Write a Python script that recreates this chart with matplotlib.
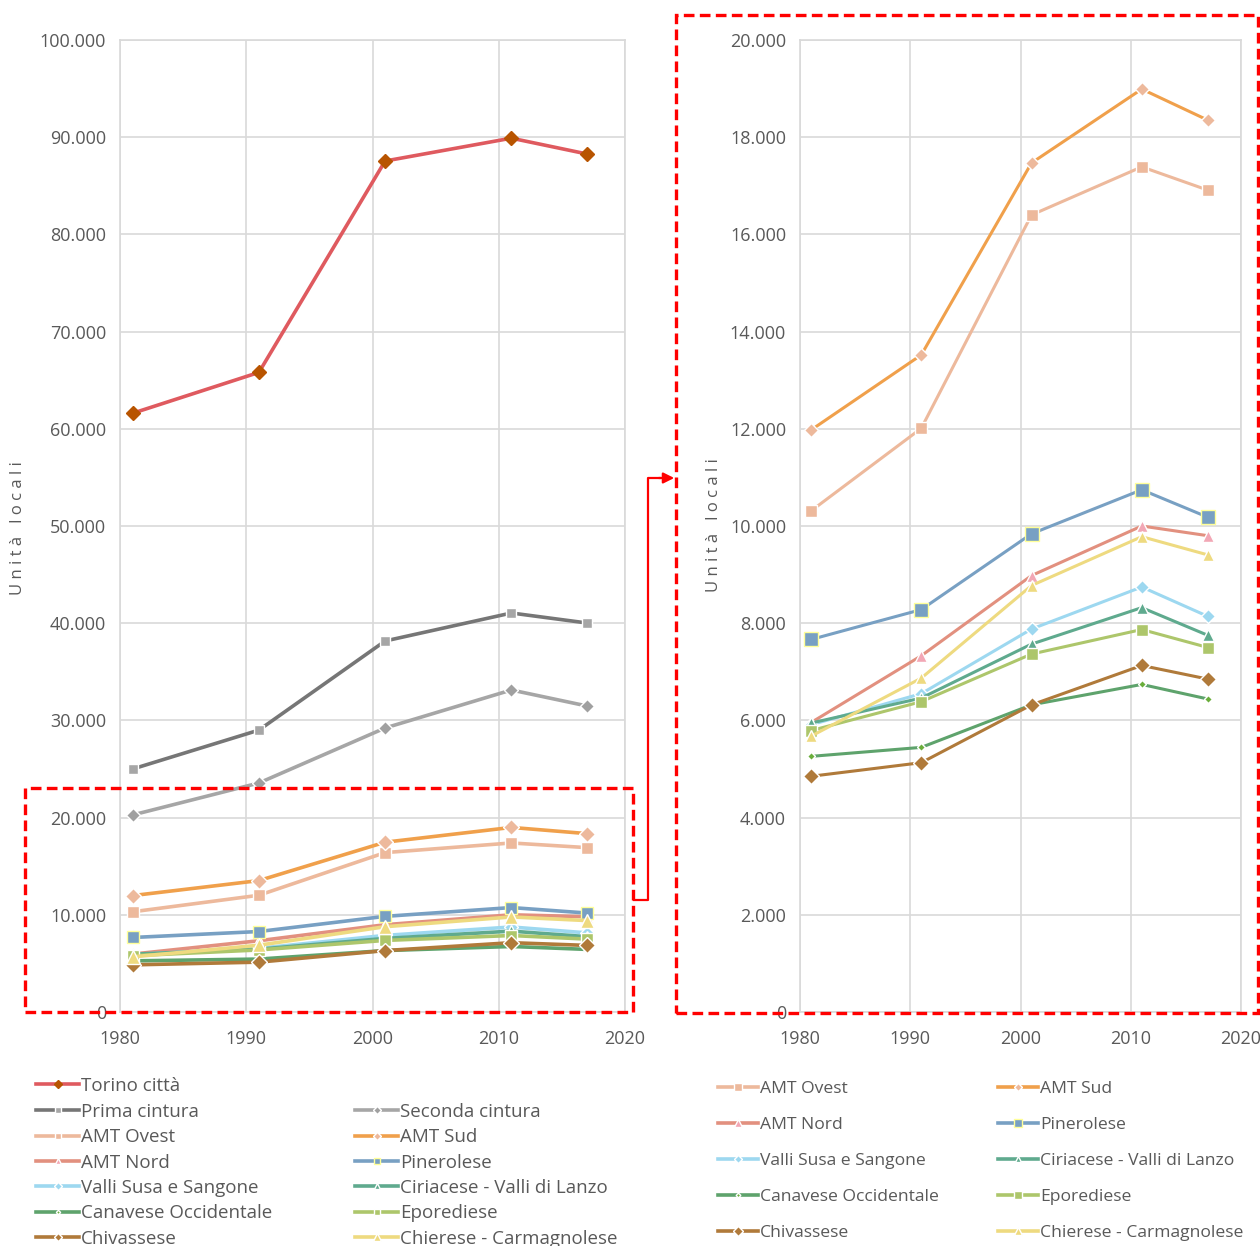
import matplotlib
matplotlib.use('Agg')
import matplotlib.pyplot as plt
from matplotlib.lines import Line2D
from matplotlib.patches import Rectangle, FancyArrowPatch
from matplotlib.ticker import FuncFormatter

plt.rcParams['font.family'] = ['Open Sans', 'DejaVu Sans']

# === data ===
years = [1981, 1991, 2001, 2011, 2017]

torino_citta = [61600, 65800, 87550, 89900, 88270]
prima_cintura = [25000, 29000, 38170, 41050, 40020]
seconda_cintura = [20270, 23560, 29220, 33130, 31480]
amt_ovest = [10310, 12010, 16400, 17390, 16910]
amt_sud = [11975, 13520, 17470, 18990, 18350]
amt_nord = [5955, 7330, 8980, 10000, 9800]
pinerolese = [7665, 8280, 9840, 10745, 10180]
valli_susa = [5910, 6550, 7880, 8745, 8140]
ciriacese = [5945, 6460, 7570, 8320, 7750]
canavese = [5260, 5445, 6320, 6740, 6440]
eporediese = [5790, 6385, 7365, 7870, 7500]
chivassese = [4850, 5130, 6320, 7130, 6850]
chierese = [5675, 6870, 8775, 9780, 9405]

# label, values, line colour, marker, marker face, marker edge, marker size (left, right)
series = [
    ('Torino città', torino_citta, '#DF5A5F', 'D', '#B85400', '#B85400', 7, 7),
    ('Prima cintura', prima_cintura, '#767676', 's', '#A6A6A6', 'white', 7, 7),
    ('Seconda cintura', seconda_cintura, '#A6A6A6', 'D', '#A0A0A0', 'white', 7, 7),
    ('AMT Ovest', amt_ovest, '#EDB99C', 's', '#EDB99C', 'white', 9, 9),
    ('AMT Sud', amt_sud, '#F0A04B', 'D', '#EDB99C', 'white', 8, 7),
    ('AMT Nord', amt_nord, '#E2907F', '^', '#F2A7B5', 'white', 9, 9),
    ('Pinerolese', pinerolese, '#78A0C3', 's', '#78A0C3', '#FFFF99', 9, 10),
    ('Valli Susa e Sangone', valli_susa, '#9DD8F0', 'D', '#9DD8F0', 'white', 7, 7),
    ('Ciriacese - Valli di Lanzo', ciriacese, '#5FAA8E', '^', '#5FAA8E', 'white', 8, 8),
    ('Canavese Occidentale', canavese, '#5EA36C', 'D', '#6AAE3B', 'white', 4, 4),
    ('Eporediese', eporediese, '#ADC66B', 's', '#ADC66B', 'white', 9, 9),
    ('Chivassese', chivassese, '#B07A3A', 'D', '#B07A3A', 'white', 8, 8),
    ('Chierese - Carmagnolese', chierese, '#EEDA80', '^', '#EEDA80', 'white', 10, 9),
]

TXT = '#595959'
GRID = '#D9D9D9'
W, H = 1260, 1246


def thousands(v, pos):
    return f'{int(v):,}'.replace(',', '.')


def fx(x):
    return x / W


def fy(y):
    return 1 - y / H


fig = plt.figure(figsize=(12.6, 12.46), dpi=100)
axL = fig.add_axes([fx(120), fy(1012), fx(625) - fx(120), fy(40) - fy(1012)])
axR = fig.add_axes([fx(800), fy(1012), fx(1241) - fx(800), fy(40) - fy(1012)])

handles = {}
for ax, which in [(axL, 0), (axR, 1)]:
    for name, vals, lc, mk, mf, me, msl, msr in series:
        if which == 1 and name in ('Torino città', 'Prima cintura', 'Seconda cintura'):
            continue
        ms = msl if which == 0 else msr
        ln, = ax.plot(years, vals, color=lc, lw=2.6 if which == 0 else 2.2,
                      marker=mk, ms=ms, mfc=mf, mec=me, mew=1.0, label=name,
                      solid_joinstyle='round', clip_on=False)
        handles[(which, name)] = ln

for ax, top, step, pad in [(axL, 100000, 10000, 10), (axR, 20000, 2000, 10)]:
    ax.set_xlim(1980, 2020)
    ax.set_ylim(0, top)
    ax.set_xticks(range(1980, 2021, 10))
    ax.set_yticks(range(0, top + 1, step))
    ax.yaxis.set_major_formatter(FuncFormatter(thousands))
    ax.grid(color=GRID, lw=1.2)
    ax.set_axisbelow(True)
    for s in ax.spines.values():
        s.set_color(GRID)
        s.set_linewidth(1.2)
    ax.tick_params(length=0, labelsize=13, labelcolor=TXT)
    ax.tick_params(axis='y', pad=pad)
    ax.tick_params(axis='x', pad=13)

fig.text(fx(18), fy(528), 'U n i t à   l o c a l i', rotation=90, ha='center', va='center',
         fontsize=12, color=TXT)
fig.text(fx(714), fy(525), 'U n i t à   l o c a l i', rotation=90, ha='center', va='center',
         fontsize=12, color=TXT)

# === legends ===
left_col1 = ['Prima cintura', 'AMT Ovest', 'AMT Nord', 'Valli Susa e Sangone',
             'Canavese Occidentale', 'Chivassese']
left_col2 = ['Seconda cintura', 'AMT Sud', 'Pinerolese', 'Ciriacese - Valli di Lanzo',
             'Eporediese', 'Chierese - Carmagnolese']
right_col1 = ['AMT Ovest', 'AMT Nord', 'Valli Susa e Sangone', 'Canavese Occidentale', 'Chivassese']
right_col2 = ['AMT Sud', 'Pinerolese', 'Ciriacese - Valli di Lanzo', 'Eporediese',
              'Chierese - Carmagnolese']


def legend_handle(src, scale):
    return Line2D([], [], color=src.get_color(), lw=2.6, marker=src.get_marker(),
                  ms=src.get_markersize() * scale, mfc=src.get_markerfacecolor(),
                  mec=src.get_markeredgecolor(), mew=1.0)


def add_legend(names, which, x, y, fs, spacing, scale, hl):
    hs = [legend_handle(handles[(which, n)], scale) for n in names]
    leg = fig.legend(hs, names, loc='upper left', bbox_to_anchor=(fx(x), fy(y)),
                     frameon=False, fontsize=fs, labelcolor=TXT, handlelength=hl,
                     handletextpad=0.1, labelspacing=spacing, borderpad=0, borderaxespad=0)
    return leg


add_legend(['Torino città'], 0, 36, 1077, 13.5, 0.4, 0.55, 2.3)
add_legend(left_col1, 0, 36, 1103, 13.5, 0.39, 0.55, 2.3)
add_legend(left_col2, 0, 355, 1103, 13.5, 0.39, 0.55, 2.3)
add_legend(right_col1, 1, 718, 1081, 12.6, 1.12, 0.6, 2.3)
add_legend(right_col2, 1, 998, 1081, 12.6, 1.12, 0.6, 2.3)

# === red dashed boxes and connector arrow ===
dash = (0, (3.2, 1.6))
fig.add_artist(Rectangle((fx(25), fy(1012)), fx(633) - fx(25), fy(788) - fy(1012),
                         fill=False, ec='#FF0000', lw=2.4, ls=dash, zorder=10))
fig.add_artist(Rectangle((fx(676), fy(1013)), fx(1258) - fx(676), fy(15) - fy(1013),
                         fill=False, ec='#FF0000', lw=2.4, ls=dash, zorder=10))
fig.add_artist(Line2D([fx(634), fx(648), fx(648), fx(660)], [fy(900), fy(900), fy(478), fy(478)],
                      color='#FF0000', lw=1.6, zorder=10))
fig.add_artist(FancyArrowPatch((fx(656), fy(478)), (fx(677), fy(478)),
                               transform=fig.transFigure, arrowstyle='-|>', mutation_scale=16,
                               color='#FF0000', lw=1.6, zorder=10))

fig.savefig('out.png', dpi=100)
plt.close()
